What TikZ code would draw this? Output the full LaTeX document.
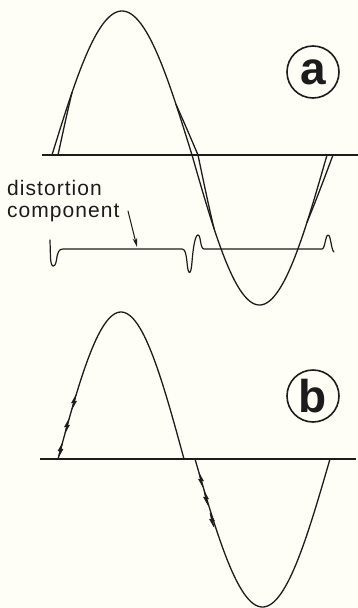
\documentclass[tikz,border=0pt]{standalone}
\usepackage{fontspec}
\setmainfont{Liberation Sans}
\newfontfamily\labelfont[LetterSpace=5]{Liberation Sans}
\usetikzlibrary{arrows.meta}
\definecolor{ink}{RGB}{28,28,28}
\definecolor{paper}{RGB}{254,254,247}

\begin{document}
\begin{tikzpicture}[x=1pt, y=-1pt, line join=round, line cap=round,
    wave/.style={ink, line width=1.3pt},
    axisline/.style={ink, line width=2.2pt, line cap=butt},
    bolt/.style={ink, fill=ink, line width=0.6pt},
    tag/.style={circle, draw=ink, line width=1.6pt, minimum size=52pt, inner sep=0pt,
                font=\bfseries\fontsize{46}{46}\selectfont, text=ink},
    caption/.style={anchor=base west, inner sep=0pt,
                font=\labelfont\fontsize{21}{21}\selectfont, text=ink}]
        % Paper
        \fill[paper] (0,0) rectangle (358,608);
        \useasboundingbox (0,0) rectangle (358,608);

        % (a) Axis
        \draw[axisline] (42,155) -- (358,155);

        % (a) Sine wave
        \draw[wave] plot[domain=52:192, samples=80] (\x, {155-144*sin((\x-52)/140*180)});
        \draw[wave] plot[domain=192:327, samples=80] (\x, {155+150*sin((\x-192)/135*180)});

        % (a) Distorted wave (lagging near each crossing)
        \draw[wave] plot[domain=52:72, samples=15] ({\x+6*(1-(\x-52)/20)}, {155-144*sin((\x-52)/140*180)});
        \draw[wave] plot[domain=176:192, samples=15] ({\x+6*(\x-176)/16}, {155-144*sin((\x-52)/140*180)})
            -- plot[domain=192:214, samples=15] ({\x+6*(1-(\x-192)/22)}, {155+150*sin((\x-192)/135*180)});
        \draw[wave] plot[domain=307:327, samples=15] ({\x+6*(1-(327-\x)/20)}, {155+150*sin((\x-192)/135*180)});

        % (a) Distortion component
        \draw[wave, line width=1.2pt] (50,240) -- (50.5,258)
            .. controls (51,268) and (55,269) .. (56.5,260)
            .. controls (57.5,252) and (59,249) .. (63,249) -- (182,249)
            .. controls (185,249) and (186,253) .. (187,262)
            .. controls (188,276) and (191,276) .. (192,262)
            .. controls (193,249) and (195,235) .. (198,235)
            .. controls (201,235) and (200,249) .. (204,249) -- (322,249)
            .. controls (325,249) and (325.5,235) .. (328,235)
            .. controls (331,235) and (331,250) .. (334,252);

        % (a) Label and arrow
        \node[caption] (distword) at (7,195) {distortion};
        \node[caption] (compword) at (7,217) {component};
        \coordinate (arrowtail) at (128,211);
        \coordinate (arrowtip) at (137,247);
        \draw[-{Stealth[length=9pt,width=4.5pt]}, ink, line width=1pt] (arrowtail) -- (arrowtip);

        % (a) Tag
        \node[tag] (taga) at (313,72) {a};

        % (b) Axis
        \draw[axisline] (40,459) -- (356,459);

        % (b) Sine wave with crossover gap
        \draw[wave] plot[domain=58:184, samples=80] (\x, {459-147*sin((\x-58)/126*180)});
        \draw[wave] plot[domain=195:330, samples=80] (\x, {459+148*sin((\x-195)/135*180)});

        % (b) Glitches on the edges
        \foreach \bx/\by/\s in {60.5/450/1, 67/426/1, 74/402/1, 201/480/-1, 206/498/-1, 212/520/-1}
            \filldraw[bolt] (\bx-2,\by+7*\s) -- (\bx+2.5,\by-1*\s) -- (\bx+0.5,\by-0.2*\s)
                -- (\bx+2,\by-7*\s) -- (\bx-2.5,\by+1*\s) -- (\bx-0.5,\by+0.2*\s) -- cycle;

        % (b) Tag
        \node[tag] (tagb) at (313,396) {b};
    \end{tikzpicture}
\end{document}
